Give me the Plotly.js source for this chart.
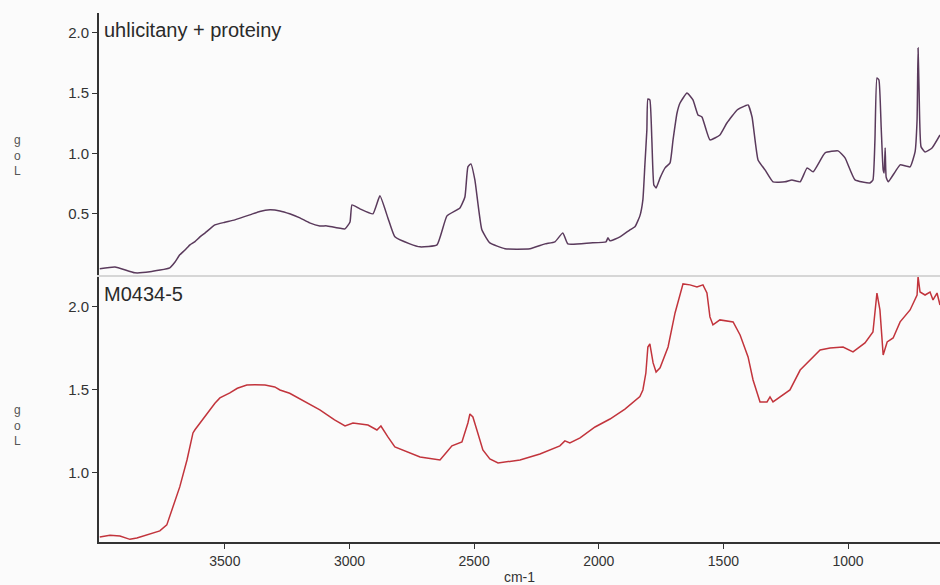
<!DOCTYPE html>
<html>
<head>
<meta charset="utf-8">
<script src="https://cdn.plot.ly/plotly-3.0.1.min.js"></script>
<style>html,body{margin:0;padding:0;background:#fbfbfb;}#chart{width:940px;height:585px;}</style>
</head>
<body>
<div id="chart"></div>
<script>
// Top spectrum: uhlicitany + proteiny
const topWavenumber = [4002,3941,3861,3801,3721,3700,3681,3660,3640,3620,3600,3580,3540,3500,3460,3400,3360,3319,3279,3240,3199,3160,3119,3091,3018,2998,2990,2958,2906,2878,2846,2818,2758,2717,2649,2609,2557,2537,2525,2513,2497,2469,2437,2376,2276,2216,2176,2144,2124,2035,1971,1963,1955,1915,1875,1855,1835,1823,1815,1807,1803,1795,1787,1779,1770,1754,1734,1714,1702,1686,1674,1646,1622,1602,1586,1554,1514,1486,1445,1413,1401,1385,1361,1333,1301,1253,1225,1192,1164,1140,1092,1040,1012,972,912,900,892,884,876,867,859,855,851,847,839,811,791,751,731,723,719,715,707,691,663,631];
const topLog = [0.044,0.060,0.011,0.019,0.052,0.100,0.160,0.200,0.243,0.270,0.309,0.340,0.408,0.430,0.450,0.491,0.520,0.533,0.524,0.500,0.466,0.425,0.400,0.400,0.375,0.433,0.574,0.541,0.500,0.649,0.466,0.309,0.251,0.226,0.243,0.483,0.549,0.640,0.889,0.914,0.781,0.367,0.259,0.210,0.210,0.251,0.268,0.342,0.251,0.259,0.268,0.301,0.276,0.309,0.367,0.392,0.483,0.616,0.906,1.196,1.453,1.444,1.113,0.740,0.715,0.798,0.881,0.922,1.113,1.336,1.419,1.502,1.444,1.320,1.303,1.113,1.154,1.253,1.361,1.395,1.403,1.303,0.947,0.864,0.765,0.765,0.781,0.765,0.881,0.848,1.005,1.022,0.964,0.781,0.756,0.781,1.113,1.626,1.610,1.220,0.864,0.839,1.046,0.805,0.765,0.848,0.906,0.889,1.013,1.278,1.875,1.527,1.055,1.013,1.046,1.154];

// Bottom spectrum: M0434-5
const botWavenumber = [4002,3961,3921,3881,3853,3821,3801,3761,3733,3713,3693,3681,3652,3640,3628,3620,3600,3580,3560,3540,3520,3480,3450,3412,3380,3339,3300,3279,3240,3199,3160,3119,3060,3018,2986,2926,2890,2874,2846,2818,2717,2637,2609,2589,2549,2525,2517,2505,2489,2465,2437,2404,2316,2236,2156,2136,2116,2075,2015,1955,1895,1835,1823,1811,1803,1795,1782,1770,1754,1722,1694,1674,1662,1634,1606,1582,1566,1554,1542,1514,1461,1433,1401,1381,1353,1325,1313,1301,1233,1192,1152,1112,1072,1020,980,932,900,888,884,872,863,859,843,819,791,751,723,719,711,691,671,659,643,631];
const botLog = [0.614,0.625,0.620,0.600,0.608,0.622,0.633,0.651,0.687,0.777,0.855,0.916,1.078,1.157,1.241,1.260,1.301,1.337,1.380,1.420,1.452,1.482,1.510,1.530,1.532,1.530,1.518,1.500,1.480,1.445,1.410,1.380,1.320,1.283,1.301,1.289,1.259,1.283,1.217,1.157,1.096,1.078,1.127,1.163,1.187,1.301,1.355,1.337,1.259,1.139,1.084,1.060,1.078,1.114,1.163,1.193,1.181,1.211,1.277,1.325,1.385,1.460,1.500,1.602,1.759,1.777,1.663,1.608,1.633,1.759,1.964,2.084,2.139,2.133,2.120,2.133,2.084,1.940,1.892,1.922,1.910,1.831,1.699,1.560,1.428,1.428,1.458,1.428,1.500,1.620,1.681,1.741,1.753,1.759,1.729,1.783,1.849,2.042,2.084,1.982,1.759,1.711,1.789,1.813,1.910,1.982,2.072,2.181,2.090,2.072,2.090,2.042,2.084,2.012];

const xTickVals = [3500,3000,2500,2000,1500,1000];
const xTickText = ['3500','3000','2500','2000','1500','1000'];
const topYTicks = [0.5,1.0,1.5,2.0];
const topYText = ['0.5','1.0','1.5','2.0'];
const botYTicks = [1.0,1.5,2.0];
const botYText = ['1.0','1.5','2.0'];
const yLabel = 'g<br>o<br>L';

const fontFam = '"Liberation Sans", Arial, sans-serif';
const axisCol = '#333333';

const traces = [
  {x: topWavenumber, y: topLog, xaxis: 'x2', yaxis: 'y2', type: 'scatter', mode: 'lines',
   line: {color: '#5a3a5c', width: 1.5, shape: 'spline', smoothing: 0.4}, hoverinfo: 'x+y'},
  {x: botWavenumber, y: botLog, xaxis: 'x', yaxis: 'y', type: 'scatter', mode: 'lines',
   line: {color: '#c2343c', width: 1.5}, hoverinfo: 'x+y'}
];

const yAxisCommon = {
  showline: true, linecolor: axisCol, linewidth: 2, ticks: 'outside', ticklen: 5,
  tickcolor: axisCol, tickwidth: 1, showgrid: false, zeroline: false,
  tickfont: {family: fontFam, size: 15, color: axisCol}, tickmode: 'array'
};

const layout = {
  width: 940, height: 585,
  margin: {l: 99, r: 0, t: 13, b: 43, pad: 0},
  paper_bgcolor: '#fbfbfb', plot_bgcolor: '#fbfbfb',
  showlegend: false,
  xaxis: {
    range: [4005, 631], domain: [0, 1], anchor: 'y',
    showline: true, linecolor: axisCol, linewidth: 2, ticks: 'outside', ticklen: 5,
    tickcolor: axisCol, showgrid: false, zeroline: false,
    tickmode: 'array', tickvals: xTickVals, ticktext: xTickText,
    tickfont: {family: fontFam, size: 14, color: axisCol},
    title: {text: 'cm-1', font: {family: fontFam, size: 14, color: axisCol}, standoff: 4}
  },
  xaxis2: {
    range: [4005, 631], domain: [0, 1], anchor: 'y2', matches: 'x',
    showline: true, linecolor: '#d6d6d6', linewidth: 2, ticks: '',
    showticklabels: false, showgrid: false, zeroline: false
  },
  yaxis: Object.assign({}, yAxisCommon, {
    domain: [0, 0.503], range: [0.584, 2.187], anchor: 'x',
    tickvals: botYTicks, ticktext: botYText
  }),
  yaxis2: Object.assign({}, yAxisCommon, {
    domain: [0.505, 1], range: [-0.006, 2.165], anchor: 'x2',
    tickvals: topYTicks, ticktext: topYText
  }),
  annotations: [
    {text: 'uhlicitany + proteiny', xref: 'paper', yref: 'paper', x: 0.004, y: 0.968,
     xanchor: 'left', yanchor: 'middle', showarrow: false,
     font: {family: fontFam, size: 20, color: '#2a2a2a'}},
    {text: 'M0434-5', xref: 'paper', yref: 'paper', x: 0.004, y: 0.468,
     xanchor: 'left', yanchor: 'middle', showarrow: false,
     font: {family: fontFam, size: 20, color: '#2a2a2a'}},
    {text: yLabel, xref: 'paper', yref: 'paper', x: -0.0975, y: (542-155)/529,
     xanchor: 'center', yanchor: 'middle', showarrow: false, borderpad: 0,
     font: {family: fontFam, size: 12, color: '#555'}},
    {text: yLabel, xref: 'paper', yref: 'paper', x: -0.0975, y: (542-425)/529,
     xanchor: 'center', yanchor: 'middle', showarrow: false, borderpad: 0,
     font: {family: fontFam, size: 12, color: '#555'}}
  ]
};

Plotly.newPlot('chart', traces, layout, {displayModeBar: false, staticPlot: true});
</script>
</body>
</html>
